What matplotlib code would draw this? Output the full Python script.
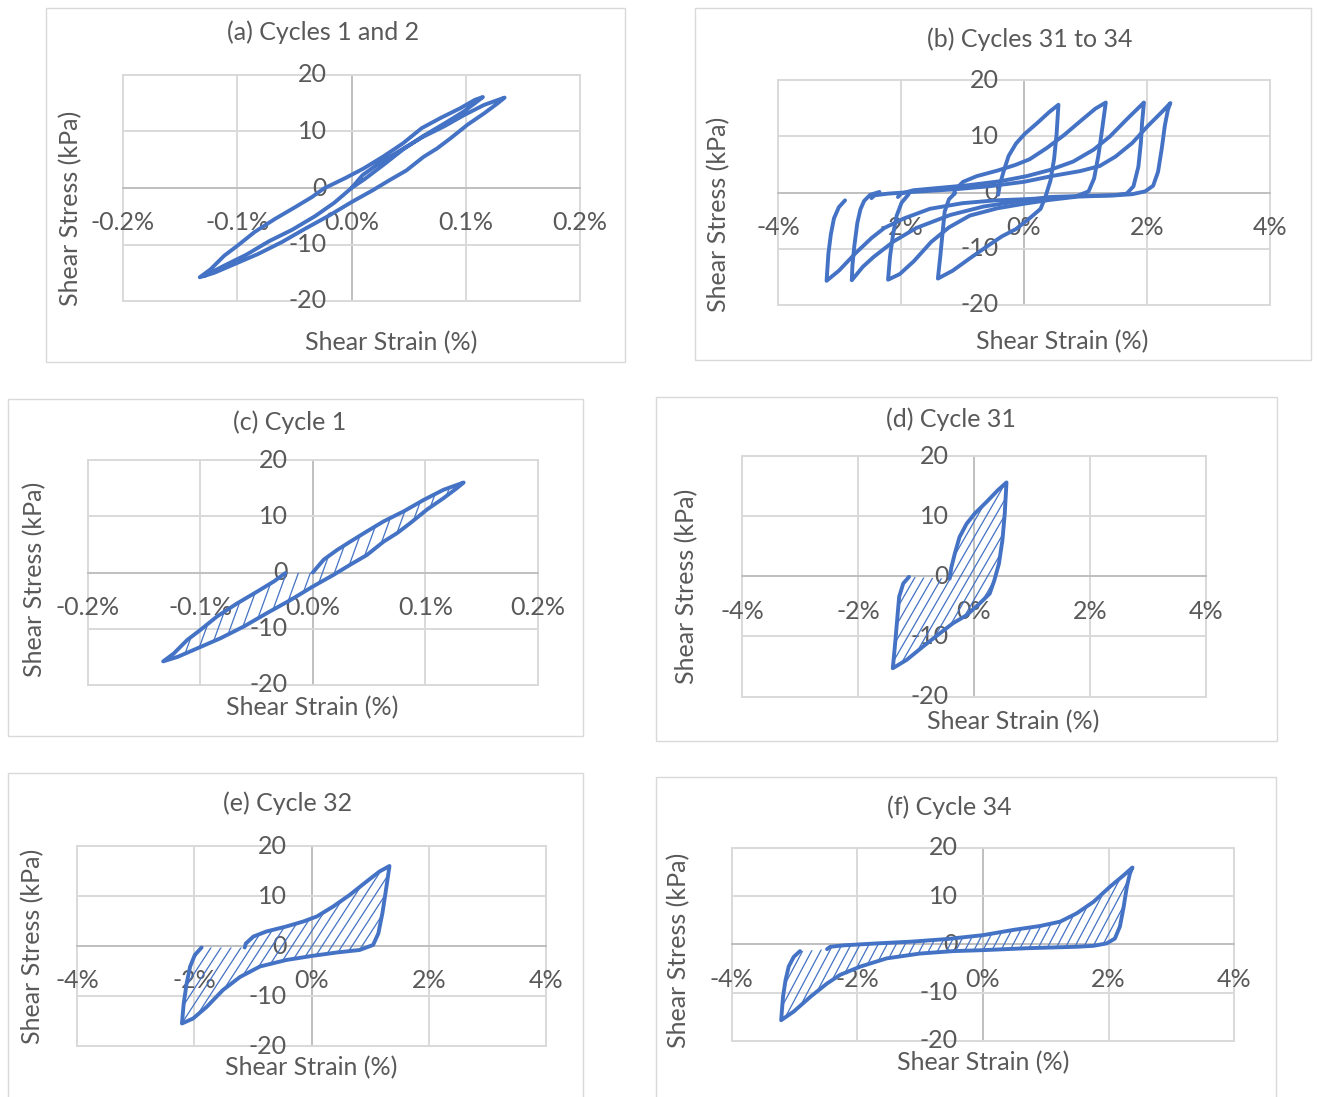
import numpy as np
import matplotlib.pyplot as plt
from matplotlib.patches import Rectangle, Polygon
from matplotlib.collections import LineCollection
from matplotlib.transforms import offset_copy

plt.rcParams['font.family'] = ['Lato', 'DejaVu Sans']

BLUE = '#4472C4'
GRID = '#D9D9D9'
AXIS = '#BFBFBF'
TEXT = '#595959'
W, H = 1318, 1097
FS = 18

# ---- cycles 1 and 2 (small strain), strain in %, stress in kPa
cyc1_strain = [0, 0.0098, 0.0216, 0.0334, 0.048, 0.063, 0.081, 0.0985, 0.116, 0.134,
               0.128, 0.116, 0.1015, 0.0867, 0.0749, 0.063, 0.048, 0.0334, 0.0186, 0,
               -0.0198, -0.0405, -0.0612, -0.082, -0.1027, -0.12, -0.1328,
               -0.1234, -0.1115, -0.0997, -0.0849, -0.0672, -0.0494, -0.0346, -0.0243]
cyc1_stress = [0, 2.3, 4.0, 5.5, 7.3, 9.1, 10.9, 12.9, 14.7, 16.0,
               15.0, 13.2, 11.2, 8.8, 7.0, 5.5, 3.1, 1.4, -0.4, -2.5,
               -4.9, -7.2, -9.6, -11.7, -13.5, -15.0, -15.8,
               -14.4, -12.0, -10.2, -7.8, -5.5, -3.4, -1.6, -0.1]

cyc2_strain = [-0.0243, -0.005, 0.011, 0.028, 0.045, 0.0615, 0.078, 0.095, 0.108, 0.115,
               0.108, 0.098, 0.082, 0.062, 0.045, 0.028, 0.011, 0, -0.015, -0.032,
               -0.052, -0.072, -0.092, -0.112, -0.129]
cyc2_stress = [-0.1, 1.8, 3.5, 5.6, 7.9, 10.6, 12.4, 14.1, 15.6, 16.1,
               15.0, 13.5, 11.5, 9.1, 6.8, 4.1, 1.5, 0, -2.6, -5.0,
               -7.4, -9.4, -11.8, -13.8, -15.6]

# ---- cycles 31 to 34 (large strain)
cyc31_strain = [-1.12, -1.22, -1.29, -1.32, -1.36, -1.40,
                -1.16, -0.88, -0.59, -0.36, -0.13, 0.10, 0.27, 0.35, 0.43, 0.49, 0.53, 0.56,
                0.41, 0.21, 0.01, -0.13, -0.25, -0.33, -0.39, -0.42]
cyc31_stress = [-0.1, -1.2, -3.4, -6.7, -11.2, -15.3,
                -13.9, -11.7, -9.5, -7.8, -6.5, -4.5, -2.9, -0.7, 2.1, 6.0, 10.4, 15.6,
                14.3, 12.3, 10.4, 8.7, 6.5, 3.8, 1.5, -0.4]

cyc32_strain = [-1.875, -1.99, -2.07, -2.13, -2.18, -2.21,
                -2.02, -1.79, -1.51, -1.22, -0.88, -0.43, 0, 0.43, 0.82, 1.05, 1.14, 1.21, 1.27, 1.33,
                1.16, 0.94, 0.65, 0.37, 0.09, -0.14, -0.43, -0.77, -0.99, -1.12, -1.14]
cyc32_stress = [-0.3, -1.8, -4.1, -7.5, -11.5, -15.5,
                -14.5, -12.2, -8.8, -6.2, -4.1, -2.8, -2.0, -1.3, -0.8, 0.2, 2.5, 6.6, 11.2, 16.0,
                14.9, 12.9, 10.2, 7.9, 5.9, 4.9, 3.9, 2.9, 1.9, 0.5, -0.3]

cyc33_strain = [-2.35, -2.50, -2.60, -2.66, -2.71, -2.76, -2.79, -2.80,
                -2.62, -2.45, -2.12, -1.75, -1.20, -0.66, -0.12, 0.42, 1.00, 1.45, 1.67,
                1.78, 1.86, 1.90, 1.92, 1.95,
                1.67, 1.40, 1.13, 0.80, 0.42, 0.04, -0.39, -0.90, -1.40, -1.80, -2.00, -2.05]
cyc33_stress = [0.1, -0.4, -1.5, -3.0, -5.4, -9.6, -13.0, -15.6,
                -13.2, -11.5, -8.7, -6.3, -4.0, -2.5, -1.6, -0.8, -0.6, -0.5, -0.2,
                1.1, 4.6, 8.8, 12.4, 16.0,
                13.0, 10.0, 7.6, 5.5, 4.0, 2.9, 2.0, 1.3, 0.8, 0.4, -0.2, -0.8]

cyc34_strain = [-2.91, -3.01, -3.09, -3.14, -3.18, -3.21,
                -3.01, -2.74, -2.48, -2.27, -1.95, -1.53, -1.00, -0.47, 0, 0.70, 1.49, 1.76,
                1.97, 2.10, 2.18, 2.24, 2.29, 2.34, 2.38,
                2.24, 2.02, 1.76, 1.49, 1.23, 0.91, 0.49, 0, -0.57, -1.15, -1.68, -2.21, -2.43, -2.48]
cyc34_stress = [-1.4, -2.6, -4.6, -7.4, -10.8, -15.7,
                -13.9, -10.8, -8.1, -6.3, -4.6, -2.9, -1.9, -1.4, -1.2, -0.8, -0.5, -0.3,
                0.2, 1.2, 3.7, 7.8, 11.9, 14.7, 15.9,
                14.3, 11.9, 8.8, 6.4, 4.7, 3.8, 3.0, 1.9, 1.1, 0.55, 0.2, -0.2, -0.5, -1.0]

small_ticks = [-0.2, -0.1, 0.0, 0.1, 0.2]
small_labels = ['-0.2%', '-0.1%', '0.0%', '0.1%', '0.2%']
large_ticks = [-4, -2, 0, 2, 4]
large_labels = ['-4%', '-2%', '0%', '2%', '4%']
stress_ticks = [20, 10, 0, -10, -20]
stress_labels = ['20', '10', '0', '-10', '-20']

fig = plt.figure(figsize=(W / 100, H / 100), dpi=100)
fig.patch.set_facecolor('white')


def fx(px):
    return px / W


def fy(py):
    return 1 - py / H


def panel(box, plot, xticks, xlabels, title, title_xy, xlab_xy, ylab_xy):
    bl, bt, br, bb = box
    fig.add_artist(Rectangle((fx(bl), fy(bb)), fx(br - bl), (bb - bt) / H,
                             transform=fig.transFigure, facecolor='white',
                             edgecolor=GRID, lw=1.0, zorder=0))
    pl, pt, pr, pb = plot
    ax = fig.add_axes([fx(pl), fy(pb), fx(pr - pl), (pb - pt) / H])
    ax.set_xlim(xticks[0], xticks[-1])
    ax.set_ylim(-20, 20)
    ax.set_axis_off()
    for x in xticks:
        ax.axvline(x, color=AXIS if x == 0 else GRID, lw=1.4, zorder=1, clip_on=False)
    for y in stress_ticks:
        ax.axhline(y, color=AXIS if y == 0 else GRID, lw=1.4, zorder=1, clip_on=False)
    tx = offset_copy(ax.transData, fig=fig, y=-35, units='dots')
    for x, lab in zip(xticks, xlabels):
        ax.text(x, 0, lab, transform=tx, ha='center', va='center',
                fontsize=FS, color=TEXT, zorder=1.5)
    ty = offset_copy(ax.transData, fig=fig, x=-25, units='dots')
    for y, lab in zip(stress_ticks, stress_labels):
        ax.text(0, y, lab, transform=ty, ha='right', va='center',
                fontsize=FS, color=TEXT, zorder=1.5)
    fig.text(fx(title_xy[0]), fy(title_xy[1]), title, ha='center', va='center',
             fontsize=FS, color=TEXT)
    fig.text(fx(xlab_xy[0]), fy(xlab_xy[1]), 'Shear Strain (%)', ha='center', va='center',
             fontsize=FS, color=TEXT)
    fig.text(fx(ylab_xy[0]), fy(ylab_xy[1]), 'Shear Stress (kPa)', ha='center', va='center',
             rotation=90, fontsize=FS, color=TEXT)
    return ax, (pr - pl, pb - pt)


def curve(ax, x, y):
    ax.plot(x, y, color=BLUE, lw=2.8, zorder=3, solid_joinstyle='round',
            solid_capstyle='round', clip_on=False)


def hatch(ax, size, x, y, spacing, angle):
    pw, ph = size
    clip = Polygon(np.column_stack([x, y]), closed=True, transform=ax.transData)
    run = ph / np.tan(np.radians(angle))
    segs = [[(c / pw, 0), ((c + run) / pw, 1)] for c in np.arange(-run, pw, spacing)]
    lc = LineCollection(segs, colors=BLUE, linewidths=0.9, transform=ax.transAxes, zorder=2.5)
    ax.add_collection(lc, autolim=False)
    lc.set_clip_path(clip)


# (a) cycles 1 and 2
ax, _ = panel((46, 8, 625, 362), (123, 75, 580, 301), small_ticks, small_labels,
              '(a) Cycles 1 and 2', (323, 32), (391, 343), (71, 208))
curve(ax, cyc1_strain + cyc2_strain, cyc1_stress + cyc2_stress)

# (b) cycles 31 to 34
ax, _ = panel((695, 8, 1311, 360), (778, 80, 1270, 305), large_ticks, large_labels,
              '(b) Cycles 31 to 34', (1030, 39), (1062, 342), (719, 214))
for xs, ys in [(cyc31_strain, cyc31_stress), (cyc32_strain, cyc32_stress),
               (cyc33_strain, cyc33_stress), (cyc34_strain, cyc34_stress)]:
    curve(ax, xs, ys)

# (c) cycle 1
ax, sz = panel((8, 399, 583, 736), (87.5, 460, 538, 685), small_ticks, small_labels,
               '(c) Cycle 1', (290, 422), (312, 708), (35, 579))
hatch(ax, sz, cyc1_strain, cyc1_stress, 12, 70)
curve(ax, cyc1_strain, cyc1_stress)

# (d) cycle 31
ax, sz = panel((656, 397, 1277, 741), (742, 456, 1206, 696.5), large_ticks, large_labels,
               '(d) Cycle 31', (951, 419), (1013, 722), (687, 586))
hatch(ax, sz, cyc31_strain, cyc31_stress, 9, 60)
curve(ax, cyc31_strain, cyc31_stress)

# (e) cycle 32
ax, sz = panel((8, 773, 583, 1102), (77, 846, 546, 1046), large_ticks, large_labels,
               '(e) Cycle 32', (288, 803), (311, 1068), (33, 946))
hatch(ax, sz, cyc32_strain, cyc32_stress, 10, 57)
curve(ax, cyc32_strain, cyc32_stress)

# (f) cycle 34
ax, sz = panel((656, 777, 1276, 1102), (731.5, 847.7, 1234.3, 1041), large_ticks, large_labels,
               '(f) Cycle 34', (949, 807), (983, 1063), (679, 950))
hatch(ax, sz, cyc34_strain, cyc34_stress, 9, 62)
curve(ax, cyc34_strain, cyc34_stress)

fig.savefig('out.png', dpi=100, facecolor='white')
